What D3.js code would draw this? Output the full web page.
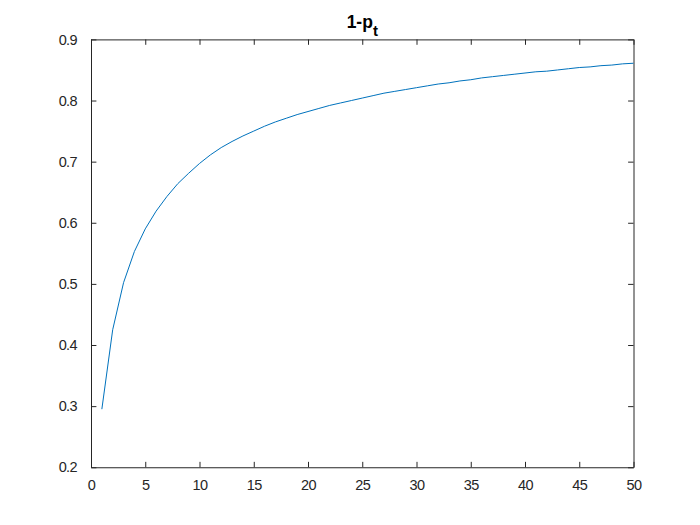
<!DOCTYPE html>
<html><head><meta charset="utf-8">
<script src="https://cdn.jsdelivr.net/npm/d3@7"></script>
<style>body{margin:0;background:#fff}svg{display:block}</style>
</head><body>
<svg id="c" width="700" height="525"></svg>
<script>
const tValues = d3.range(1, 51);
const series = [0.295,0.425,0.502,0.553,0.590,0.619,0.643,0.664,0.681,0.697,
0.711,0.723,0.733,0.742,0.750,0.758,0.765,0.771,0.777,0.782,
0.787,0.792,0.796,0.800,0.804,0.808,0.812,0.815,0.818,0.821,
0.824,0.827,0.829,0.832,0.834,0.837,0.839,0.841,0.843,0.845,
0.847,0.848,0.850,0.852,0.854,0.855,0.857,0.858,0.860,0.861];
const xTicks = [0,5,10,15,20,25,30,35,40,45,50];
const yTicks = [0.2,0.3,0.4,0.5,0.6,0.7,0.8,0.9];

const svg = d3.select("#c");
const L = 91, R = 633.5, T = 39.4, B = 467.25;
const x = d3.scaleLinear().domain([0,50]).range([L,R]);
const y = d3.scaleLinear().domain([0.2,0.9]).range([B,T]);
const ax = "#262626", font = "'Liberation Sans', Arial, sans-serif";
const tl = 5.4;

const g = svg.append("g").attr("font-family", font);

const xb = g.append("g").attr("transform",`translate(0,${B})`)
  .call(d3.axisBottom(x).tickValues(xTicks).tickSizeInner(-tl).tickSizeOuter(0).tickPadding(12).tickFormat(d3.format("d")));
const xt = g.append("g").attr("transform",`translate(0,${T})`)
  .call(d3.axisTop(x).tickValues(xTicks).tickSizeInner(-tl).tickSizeOuter(0).tickFormat(""));
const yl = g.append("g").attr("transform",`translate(${L},0)`)
  .call(d3.axisLeft(y).tickValues(yTicks).tickSizeInner(-tl).tickSizeOuter(0).tickPadding(14).tickFormat(d3.format(".1f")));
const yr = g.append("g").attr("transform",`translate(${R},0)`)
  .call(d3.axisRight(y).tickValues(yTicks).tickSizeInner(-tl).tickSizeOuter(0).tickFormat(""));
[xb,xt,yl,yr].forEach(a=>{
  a.selectAll("path.domain").attr("stroke",ax).attr("stroke-width",1);
  a.selectAll(".tick line").attr("stroke",ax).attr("stroke-width",1);
  a.selectAll("text").attr("fill",ax).attr("font-size","14.5px").attr("letter-spacing","-0.6px").attr("font-family",font);
});

const line = d3.line().x((d,i)=>x(tValues[i])).y(d=>y(d));
g.append("path").datum(series).attr("d",line)
  .attr("fill","none").attr("stroke","#0072BD").attr("stroke-width",1);

const title = g.append("text").attr("x",(L+R)/2).attr("y",27.5)
  .attr("text-anchor","middle").attr("font-weight","bold").attr("font-size","17.5px").attr("fill","#000");
title.append("tspan").text("1-p");
title.append("tspan").attr("dy",8).attr("font-size","15px").text("t");
</script>
</body></html>
